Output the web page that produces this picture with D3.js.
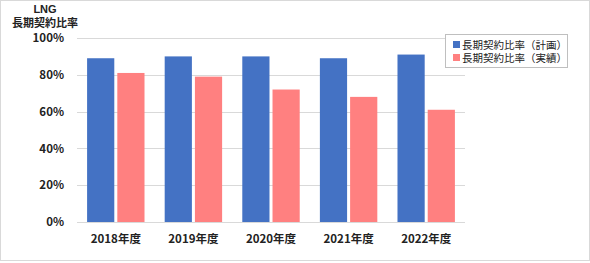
<!DOCTYPE html>
<html>
<head>
<meta charset="utf-8">
<script src="https://cdn.jsdelivr.net/npm/d3@7"></script>
<style>
  body { margin: 0; background: #fff; }
  text { font-family: "Noto Sans CJK JP", "Noto Sans", sans-serif; }
</style>
</head>
<body>
<div class="chart"></div>
<script>
// data
const years = ["2018年度", "2019年度", "2020年度", "2021年度", "2022年度"];
const planned = [0.89, 0.90, 0.90, 0.89, 0.91];
const actual = [0.81, 0.79, 0.72, 0.68, 0.61];
const seriesNames = ["長期契約比率（計画）", "長期契約比率（実績）"];
const colors = ["#4472C4", "#FF8080"];
const yTicks = [0, 0.2, 0.4, 0.6, 0.8, 1.0];

const width = 590, height = 263;
const svg = d3.select(".chart").append("svg")
    .attr("width", width)
    .attr("height", height);

// outer frame
svg.append("rect")
    .attr("x", 0.5).attr("y", 0.5)
    .attr("width", width - 1).attr("height", height - 3)
    .attr("fill", "none")
    .attr("stroke", "#d9d9d9");

const x = d3.scaleBand().domain(years).range([77, 465]).paddingInner(0.26).paddingOuter(0.13);
const xSub = d3.scaleBand().domain([0, 1]).range([0, x.bandwidth()]).paddingInner(0.1);
const y = d3.scaleLinear().domain([0, 1]).range([222, 38]);

// gridlines
svg.append("g").selectAll("line")
    .data(yTicks)
    .join("line")
    .attr("x1", 77).attr("x2", 465)
    .attr("y1", d => Math.round(y(d)) + 0.5)
    .attr("y2", d => Math.round(y(d)) + 0.5)
    .attr("stroke", "#d9d9d9");

// y axis
const yAxis = svg.append("g")
    .attr("transform", "translate(67,0)")
    .call(d3.axisLeft(y).tickValues(yTicks).tickFormat(d3.format(".0%")).tickSize(0));
yAxis.select(".domain").remove();
yAxis.selectAll("text")
    .attr("font-size", 11.5).attr("font-weight", "bold").attr("fill", "#222")
    .style("font-family", "'Noto Sans CJK JP', sans-serif");

// bars
const rows = years.map((yr, i) => ({ yr, vals: [planned[i], actual[i]] }));
const groups = svg.append("g").selectAll("g")
    .data(rows)
    .join("g")
    .attr("transform", d => "translate(" + x(d.yr) + ",0)");
groups.selectAll("rect")
    .data(d => d.vals.map((v, k) => ({ v, k })))
    .join("rect")
    .attr("x", d => xSub(d.k))
    .attr("width", xSub.bandwidth())
    .attr("y", d => y(d.v))
    .attr("height", d => y(0) - y(d.v))
    .attr("fill", d => colors[d.k]);

// x axis
const xAxis = svg.append("g")
    .attr("transform", "translate(0,222)")
    .call(d3.axisBottom(x).tickSize(0).tickPadding(13));
xAxis.select(".domain").remove();
xAxis.selectAll("text")
    .attr("font-size", 11.5).attr("font-weight", "bold").attr("fill", "#222")
    .style("font-family", "'Noto Sans CJK JP', sans-serif");

// axis title
const title = svg.append("g")
    .attr("font-size", 11).attr("font-weight", "bold").attr("fill", "#222")
    .attr("text-anchor", "middle");
title.append("text").attr("x", 45).attr("y", 13)
    .style("font-family", "'Liberation Sans', sans-serif")
    .text("LNG");
title.append("text").attr("x", 45).attr("y", 27).text("長期契約比率");

// legend
const legend = svg.append("g").attr("transform", "translate(445,34)");
legend.append("rect")
    .attr("x", 0.5).attr("y", 0.5)
    .attr("width", 122).attr("height", 33)
    .attr("fill", "#fff")
    .attr("stroke", "#bfbfbf");
const items = legend.selectAll("g.item")
    .data(seriesNames)
    .join("g")
    .attr("class", "item")
    .attr("transform", (d, i) => "translate(8," + (10.5 + i * 13) + ")");
items.append("rect")
    .attr("x", 0).attr("y", -3.5)
    .attr("width", 7).attr("height", 7)
    .attr("fill", (d, i) => colors[i]);
items.append("text")
    .attr("x", 9).attr("y", 4)
    .attr("font-size", 10.5).attr("fill", "#222")
    .style("font-family", "'Liberation Sans', 'Noto Sans CJK JP', sans-serif")
    .text(d => d);
</script>
</body>
</html>
